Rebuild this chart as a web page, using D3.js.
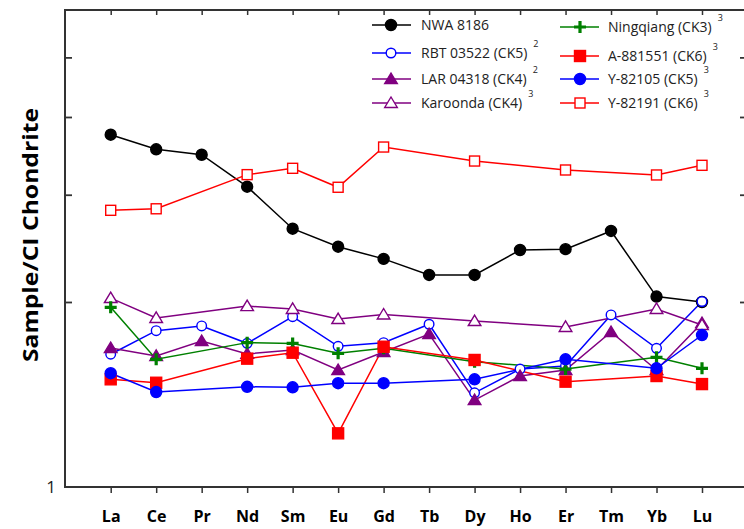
<!DOCTYPE html>
<html><head><meta charset="utf-8">
<script src="https://cdn.jsdelivr.net/npm/d3@7"></script>
<style>body{margin:0;background:#fff}svg{display:block}</style>
</head><body>
<svg id="c" width="744" height="529"></svg>
<script>
const categories = ["La","Ce","Pr","Nd","Sm","Eu","Gd","Tb","Dy","Ho","Er","Tm","Yb","Lu"];
const yTickValues = [10, 38, 100, 210];
const yLabelValues = [1];

const nwa8186   = [80.2,66.9,62.5,42.0,24.9,19.9,17.1,14.0,14.0,19.1,19.3,24.2,10.7,10.0];
const rbt03522  = [5.22,7.0,7.42,5.98,8.33,5.76,6.03,7.58,3.23,4.34,4.51,8.51,5.62,10.06];
const lar04318  = [5.64,5.11,6.15,5.24,5.50,4.29,5.37,6.71,2.95,3.98,4.29,6.88,4.29,7.70];
const karoonda  = [10.5,8.2,null,9.5,9.17,8.09,8.56,null,7.89,null,7.33,null,9.17,7.51];
const ningqiang = [9.36,4.90,null,6.03,5.97,5.28,5.62,null,4.76,null,4.34,null,5.02,4.38];
const a881551   = [3.82,3.66,null,4.94,5.32,1.95,5.73,null,4.86,null,3.71,null,3.98,3.60];
const y82105    = [4.12,3.26,null,3.48,3.46,3.64,3.64,null,3.82,null,4.90,null,4.38,6.63];
const y82191    = [31.3,31.9,null,48.8,52.8,41.7,68.8,null,57.8,null,51.7,null,48.6,54.8];

const series = [
  {name:"NWA 8186", sup:"", values:nwa8186, color:"#000000", marker:"circle", fill:true},
  {name:"RBT 03522 (CK5)", sup:"2", values:rbt03522, color:"#0000ff", marker:"circle", fill:false},
  {name:"LAR 04318 (CK4)", sup:"2", values:lar04318, color:"#800080", marker:"triangle", fill:true},
  {name:"Karoonda (CK4)", sup:"3", values:karoonda, color:"#800080", marker:"triangle", fill:false},
  {name:"Ningqiang (CK3)", sup:"3", values:ningqiang, color:"#008000", marker:"cross", fill:true},
  {name:"A-881551 (CK6)", sup:"3", values:a881551, color:"#ff0000", marker:"square", fill:true},
  {name:"Y-82105 (CK5)", sup:"3", values:y82105, color:"#0000ff", marker:"circle", fill:true},
  {name:"Y-82191 (CK6)", sup:"3", values:y82191, color:"#ff0000", marker:"square", fill:false}
];

const L = 65, T = 10, R = 747, B = 487;
const svg = d3.select("#c");
const font = "'Open Sans', 'Liberation Sans', sans-serif";

const x = d3.scalePoint().domain(categories).range([110.7, 702]);
const y = d3.scaleLog().domain([1, 378.7]).range([B, T]);

const axisColor = "#333";
const gB = svg.append("g").attr("transform", `translate(0,${B})`)
  .call(d3.axisBottom(x).tickSize(6).tickPadding(18).tickSizeOuter(0));
gB.select(".domain").remove();
gB.selectAll("line").attr("stroke", axisColor).attr("stroke-width", 1.5);
gB.selectAll("text").attr("font-family", font).attr("font-size", 16).attr("font-weight", "bold").attr("fill", "#000");

const gT = svg.append("g").attr("transform", `translate(0,${T})`)
  .call(d3.axisBottom(x).tickSize(5).tickFormat("").tickSizeOuter(0));
gT.select(".domain").remove();
gT.selectAll("line").attr("stroke", axisColor).attr("stroke-width", 1.5);

const gL = svg.append("g").attr("transform", `translate(${L},0)`)
  .call(d3.axisRight(y).tickValues(yTickValues).tickSize(7).tickFormat("").tickSizeOuter(0));
gL.select(".domain").remove();
gL.selectAll("line").attr("stroke", axisColor).attr("stroke-width", 1.8);

const gR = svg.append("g").attr("transform", `translate(${R},0)`)
  .call(d3.axisLeft(y).tickValues(yTickValues).tickSize(7).tickFormat("").tickSizeOuter(0));
gR.select(".domain").remove();
gR.selectAll("line").attr("stroke", axisColor).attr("stroke-width", 1.8);

svg.append("path")
  .attr("d", `M${L},${T}H${R}V${B}H${L}Z`)
  .attr("fill", "none").attr("stroke", axisColor).attr("stroke-width", 2);

svg.selectAll(".ylab").data(yLabelValues).enter().append("text")
  .attr("x", 56).attr("y", d => y(d)).attr("dy", "0.35em")
  .attr("text-anchor", "end").attr("font-family", font).attr("font-size", 17).attr("fill", "#222")
  .text(d => d);

svg.append("text")
  .attr("transform", `translate(38,235) rotate(-90)`)
  .attr("text-anchor", "middle").attr("font-family", font).attr("font-size", 21).attr("font-weight", "bold")
  .attr("textLength", 254).attr("lengthAdjust", "spacingAndGlyphs")
  .text("Sample/CI Chondrite");

function drawMarker(g, s, cx, cy, scale) {
  const k = scale || 1;
  const sw = 1.4;
  if (s.marker === "circle") {
    g.append("circle").attr("cx", cx).attr("cy", cy).attr("r", (s.fill ? 5.5 : 4.8) * k)
      .attr("fill", s.fill ? s.color : "#fff").attr("stroke", s.color).attr("stroke-width", sw);
  } else if (s.marker === "square") {
    const h = (s.fill ? 5.5 : 5) * k;
    g.append("rect").attr("x", cx - h).attr("y", cy - h).attr("width", 2*h).attr("height", 2*h)
      .attr("fill", s.fill ? s.color : "#fff").attr("stroke", s.color).attr("stroke-width", sw);
  } else if (s.marker === "triangle") {
    const h = 6 * k;
    g.append("path").attr("d", `M${cx},${cy-h}L${cx+h*1.05},${cy+h*0.75}L${cx-h*1.05},${cy+h*0.75}Z`)
      .attr("fill", s.fill ? s.color : "#fff").attr("stroke", s.color).attr("stroke-width", sw);
  } else if (s.marker === "cross") {
    const h = 6 * k;
    g.append("path").attr("d", `M${cx-h},${cy}H${cx+h}M${cx},${cy-h}V${cy+h}`)
      .attr("stroke", s.color).attr("stroke-width", 3.2).attr("fill", "none");
  }
}

const line = d3.line().x(d => x(d.c)).y(d => y(d.v));
const plot = svg.append("g");
series.forEach(s => {
  const pts = categories.map((c, i) => ({c, v: s.values[i]})).filter(d => d.v != null);
  plot.append("path").datum(pts).attr("d", line).attr("fill", "none")
    .attr("stroke", s.color).attr("stroke-width", 1.5);
});
series.forEach(s => {
  const g = plot.append("g");
  categories.forEach((c, i) => {
    const v = s.values[i];
    if (v != null) drawMarker(g, s, x(c), y(v));
  });
});

const legCols = [
  {lx0: 372, lx1: 411, mx: 391, tx: 421},
  {lx0: 560, lx1: 599, mx: 580, tx: 608}
];
const legRowsY = [[25, 53, 79, 103], [27, 56, 79, 103]];
const leg = svg.append("g");
series.forEach((s, i) => {
  const col = i < 4 ? 0 : 1, row = i % 4;
  const c = legCols[col], ly = legRowsY[col][row];
  leg.append("line").attr("x1", c.lx0).attr("x2", c.lx1).attr("y1", ly).attr("y2", ly)
    .attr("stroke", s.color).attr("stroke-width", 1.5);
  drawMarker(leg, s, c.mx, ly);
  const t = leg.append("text").attr("x", c.tx).attr("y", ly).attr("dy", "0.35em")
    .attr("font-family", font).attr("font-size", 14).attr("fill", "#222").text(s.name);
  if (s.sup) {
    const w = t.node().getComputedTextLength();
    leg.append("text").attr("x", c.tx + w + 6).attr("y", ly - 6)
      .attr("font-family", font).attr("font-size", 9).attr("fill", "#222").text(s.sup);
  }
});
</script>
</body></html>
